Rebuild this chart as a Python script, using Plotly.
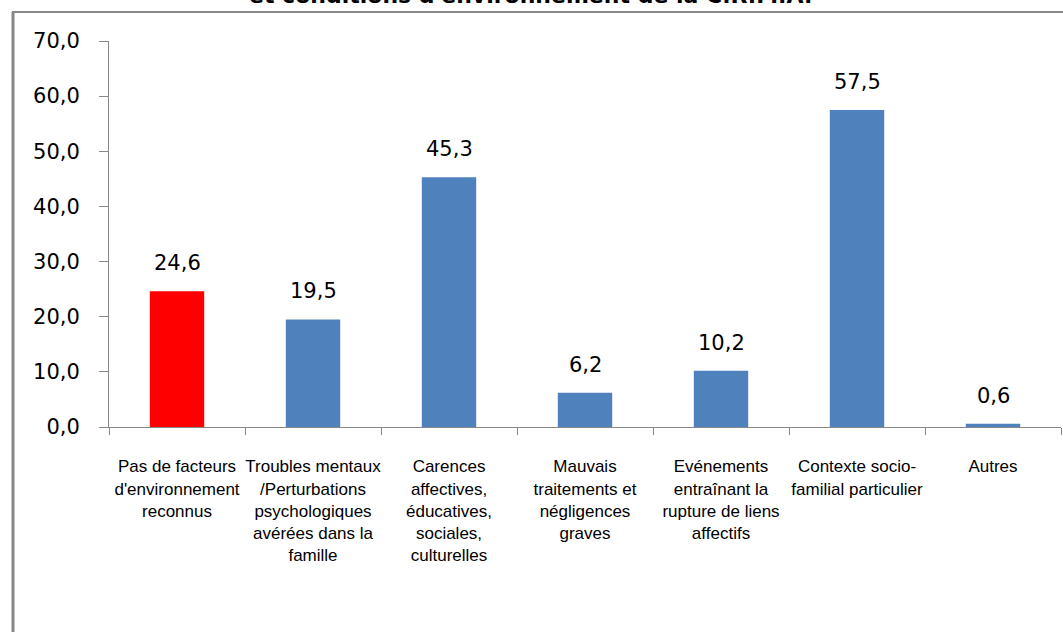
import plotly.graph_objects as go

categories = [
    "Pas de facteurs<br>d'environnement<br>reconnus",
    "Troubles mentaux<br>/Perturbations<br>psychologiques<br>avérées dans la<br>famille",
    "Carences<br>affectives,<br>éducatives,<br>sociales,<br>culturelles",
    "Mauvais<br>traitements et<br>négligences<br>graves",
    "Evénements<br>entraînant la<br>rupture de liens<br>affectifs",
    "Contexte socio-<br>familial particulier",
    "Autres",
]
values = [24.6, 19.5, 45.3, 6.2, 10.2, 57.5, 0.6]
colors = ["#FF0000", "#4F81BD", "#4F81BD", "#4F81BD", "#4F81BD", "#4F81BD", "#4F81BD"]
y_ticks = [0, 10, 20, 30, 40, 50, 60, 70]
title_text = "et conditions d'environnement de la C.R.M.A."

W, H = 1063, 632
L, R, T, B = 109, 2, 41, 205
pw, ph = W - L - R, H - T - B

def px_x(p):
    return (p - L) / pw

def px_y(p):
    return (H - B - p) / ph

fig = go.Figure(go.Bar(
    x=categories, y=values,
    marker=dict(color=colors, line=dict(width=0)),
    cliponaxis=False,
))

annotations = [
    dict(x=c, y=v, xref="x", yref="y", text=f"{v:.1f}".replace(".", ","),
         showarrow=False, yanchor="bottom", yshift=14,
         font=dict(family="DejaVu Sans", size=21, color="#000"))
    for c, v in zip(categories, values)
]
annotations.append(
    dict(text=f"<b>{title_text}</b>", xref="paper", yref="paper",
         x=px_x(530), y=px_y(-5), showarrow=False,
         font=dict(family="DejaVu Sans", size=22, color="#000"),
         xanchor="center", yanchor="middle")
)

fig.update_layout(
    width=W, height=H,
    margin=dict(l=L, r=R, t=T, b=B),
    plot_bgcolor="white", paper_bgcolor="white",
    separators=", ",
    bargap=0.6,
    showlegend=False,
    xaxis=dict(
        showline=True, linecolor="#888", linewidth=1,
        ticks="outside", tickson="boundaries", ticklen=7, tickcolor="#888",
        tickfont=dict(family="Liberation Sans, Arial, sans-serif", size=17, color="#000"),
        tickangle=0, ticklabelstandoff=24,
    ),
    yaxis=dict(
        range=[0, 70], tickvals=y_ticks, tickformat=".1f",
        showline=True, linecolor="#888", linewidth=1,
        ticks="outside", ticklen=9, tickcolor="#888",
        showgrid=False, zeroline=False,
        tickfont=dict(family="DejaVu Sans", size=21, color="#000"),
        ticklabelstandoff=15,
    ),
    shapes=[
        dict(type="line", xref="paper", yref="paper",
             x0=px_x(13), x1=px_x(13), y0=px_y(12), y1=px_y(640),
             line=dict(color="#888", width=3)),
        dict(type="line", xref="paper", yref="paper",
             x0=px_x(12), x1=px_x(1070), y0=px_y(12), y1=px_y(12),
             line=dict(color="#888", width=2)),
    ],
    annotations=annotations,
)

fig.write_html("out.html")
